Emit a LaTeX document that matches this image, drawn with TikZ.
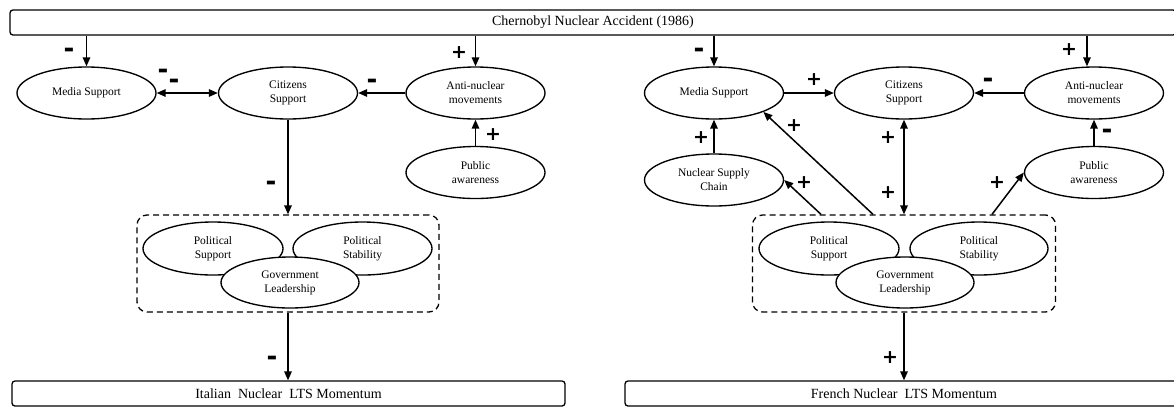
\documentclass[tikz,border=0pt]{standalone}
\usepackage{fontspec}
\setmainfont{Liberation Serif}
\newfontfamily\lblfont{DejaVu Sans}
\usetikzlibrary{arrows.meta,shapes.geometric}
\tikzset{
  ell/.style={draw, ellipse, line width=1.35pt, fill=white, minimum width=139pt, minimum height=52pt, inner sep=0pt, align=center, font=\fontsize{11.5}{14}\selectfont},
  bigbox/.style={draw, rounded corners=3pt, line width=1.3pt, minimum height=25pt, inner sep=0pt, font=\fontsize{14}{16}\selectfont},
  grp/.style={draw, dash pattern=on 6pt off 4pt, rounded corners=10pt, line width=1.3pt, minimum width=302pt, minimum height=97pt, inner sep=0pt},
  arr/.style={-{Triangle[length=9pt,width=7.5pt]}, line width=1.5pt},
  darr/.style={{Triangle[length=9pt,width=7.5pt]}-{Triangle[length=9pt,width=7.5pt]}, line width=1.5pt},
  pl/.style={inner sep=0pt, font=\lblfont\bfseries\fontsize{19}{19}\selectfont},
  mi/.style={inner sep=0pt, yshift=-2.5pt, font=\lblfont\bfseries\fontsize{26}{26}\selectfont},
}
\begin{document}
\begin{tikzpicture}[x=1pt,y=-1pt]
\useasboundingbox (0,0) rectangle (1174,408);
% big boxes
\node[bigbox, minimum width=1166pt] (chern) at (593,22.5) {Chernobyl Nuclear Accident (1986)};
\node[bigbox, minimum width=553pt] (ita) at (288.5,393.5) {Italian\ \ Nuclear\ \ LTS Momentum};
\node[bigbox, minimum width=558pt] (fra) at (904,393.5) {French Nuclear\ \ LTS Momentum};
% group boxes
\node[grp] (grpL) at (288,263.5) {};
\node[grp, minimum width=303pt] (grpR) at (904,263.5) {};
% left ellipses
\node[ell] (msL) at (86.5,93) {Media Support};
\node[ell] (citL) at (288,93) {Citizens\\Support};
\node[ell] (antiL) at (475.5,93) {Anti-nuclear\\movements};
\node[ell] (paL) at (475.5,172.5) {Public\\awareness};
\node[ell, minimum width=140pt, minimum height=53pt] (psL) at (213,248.5) {Political\\Support};
\node[ell, minimum width=139pt, minimum height=53pt] (stL) at (362.5,248.5) {Political\\Stability};
\node[ell, minimum width=138pt, minimum height=51pt] (glL) at (290,282.5) {Government\\Leadership};
% right ellipses
\node[ell] (msR) at (714,93) {Media Support};
\node[ell] (citR) at (904,93) {Citizens\\Support};
\node[ell] (antiR) at (1094,93) {Anti-nuclear\\movements};
\node[ell] (paR) at (1094,172.5) {Public\\awareness};
\node[ell] (nscR) at (714,180) {Nuclear Supply\\Chain};
\node[ell, minimum width=140pt, minimum height=53pt] (psR) at (829,248.5) {Political\\Support};
\node[ell, minimum width=138pt, minimum height=53pt] (stR) at (979,248.5) {Political\\Stability};
\node[ell, minimum width=138pt, minimum height=51pt] (glR) at (905,282.5) {Government\\Leadership};
% left connectors
\draw[arr] (chern.south -| msL.north) -- (msL.north);
\draw[arr] (chern.south -| antiL.north) -- (antiL.north);
\draw[darr] (msL.east) -- (citL.west);
\draw[arr] (antiL.west) -- (citL.east);
\draw[arr] (paL.north) -- (antiL.south);
\draw[arr] (citL.south) -- (citL.south |- grpL.north);
\draw[arr] (grpL.south) -- (grpL.south |- ita.north);
% right connectors
\coordinate (antiRtop) at ([xshift=-7pt]antiR.north);
\coordinate (sNsc) at ([xshift=-83pt]grpR.north);
\coordinate (sMed) at ([xshift=-31pt]grpR.north);
\coordinate (sPa) at ([xshift=88pt]grpR.north);
\draw[arr] (chern.south -| msR.north) -- (msR.north);
\draw[arr] (chern.south -| antiRtop) -- (antiRtop);
\draw[arr] (msR.east) -- (citR.west);
\draw[arr] (antiR.west) -- (citR.east);
\draw[arr] (paR.north) -- (antiR.south);
\draw[arr] (nscR.north) -- (msR.south);
\draw[darr] (citR.south |- grpR.north) -- (citR.south);
\draw[arr] (sNsc) -- (nscR.east);
\draw[arr] (sMed) -- (msR.-21);
\draw[arr] (sPa) -- (paR.west);
\draw[arr] (grpR.south) -- (grpR.south |- fra.north);
% labels left
\node[mi] (l1) at (69,50) {-};
\node[mi] (l2) at (163,71) {-};
\node[mi] (l3) at (174,81) {-};
\node[mi] (l4) at (372,81) {-};
\node[pl] (l5) at (459,53) {+};
\node[pl] (l6) at (493,135) {+};
\node[mi] (l7) at (271,183) {-};
\node[mi] (l8) at (272,358) {-};
% labels right
\node[mi] (r1) at (699,50) {-};
\node[pl] (r2) at (814,80) {+};
\node[mi] (r3) at (988,80) {-};
\node[pl] (r4) at (1069,50) {+};
\node[pl] (r5) at (701,138) {+};
\node[pl] (r6) at (794,126) {+};
\node[pl] (r7) at (888,138) {+};
\node[pl] (r8) at (888,193) {+};
\node[pl] (r9) at (804,183) {+};
\node[pl] (r10) at (997,183) {+};
\node[mi] (r11) at (1107,131) {-};
\node[pl] (r12) at (890,358) {+};
\end{tikzpicture}
\end{document}
